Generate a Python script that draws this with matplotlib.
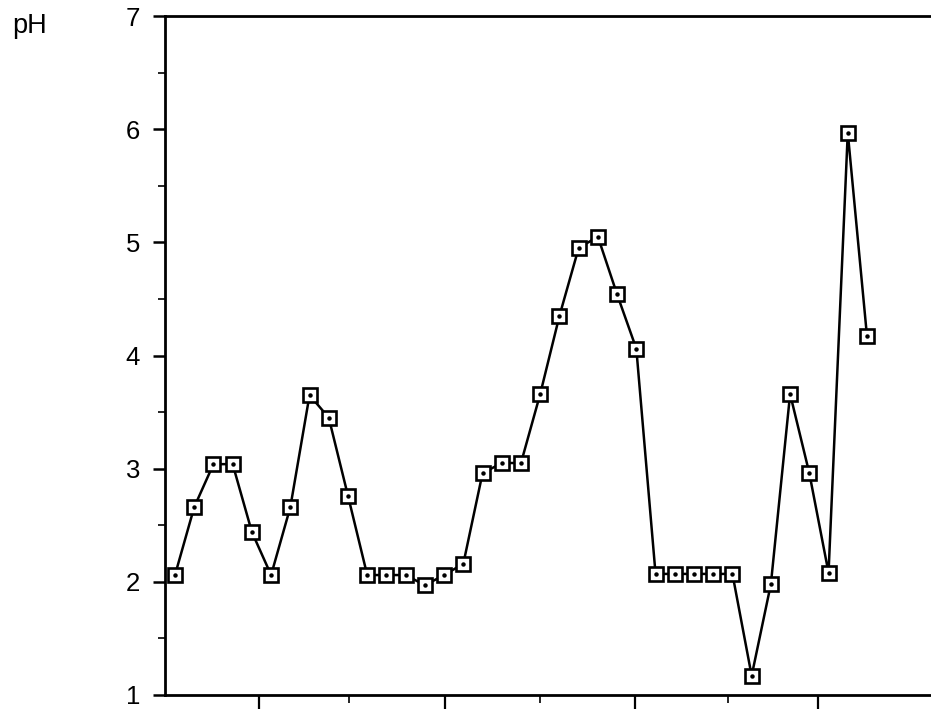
import matplotlib
matplotlib.use("Agg")
import matplotlib.pyplot as plt
import numpy as np

plt.rcParams['font.family'] = ['Liberation Sans', 'DejaVu Sans']

# data: pH readings at successive sample positions
sample = list(range(37))
ph = [2.06, 2.66, 3.04, 3.04, 2.44, 2.06, 2.66, 3.65, 3.45, 2.76,
      2.06, 2.06, 2.06, 1.97, 2.06, 2.16, 2.96, 3.05, 3.05, 3.66,
      4.35, 4.95, 5.05, 4.54, 4.06, 2.07, 2.07, 2.07, 2.07, 2.07,
      1.17, 1.98, 3.66, 2.96, 2.08, 5.97, 4.17]

y_ticks = [1, 2, 3, 4, 5, 6, 7]
y_minor = [1.5, 2.5, 3.5, 4.5, 5.5, 6.5]
x_major = [4.37, 14.05, 23.93, 33.45]
x_minor = [9.05, 18.99, 28.77]

W, H = 931, 711
fig = plt.figure(figsize=(W / 100, H / 100), dpi=100)
left, right, bottom, top = 165, 931, 695, 16
ax = fig.add_axes([left / W, (H - bottom) / H, (right - left) / W, (bottom - top) / H])

ax.plot(sample, ph, color='black', lw=1.8, marker='s', markersize=9.5,
        markerfacecolor='white', markeredgecolor='black', markeredgewidth=1.9,
        zorder=3)
ax.plot(sample, ph, linestyle='none', marker='o', markersize=2.2,
        color='black', zorder=4)

ax.set_ylim(1, 7)
ax.set_xlim(-0.52, 39.33)
ax.set_yticks(y_ticks)
ax.set_yticks(y_minor, minor=True)
ax.set_xticks(x_major)
ax.set_xticks(x_minor, minor=True)
ax.set_xticklabels([])

for s in ['left', 'bottom', 'top']:
    ax.spines[s].set_linewidth(2.0)
ax.spines['right'].set_visible(False)

ax.tick_params(axis='y', which='major', direction='out', length=9, width=1.8,
               labelsize=18.5, pad=9)
ax.tick_params(axis='y', which='minor', direction='out', length=5, width=1.2)
ax.tick_params(axis='x', which='major', direction='out', length=10, width=1.6)
ax.tick_params(axis='x', which='minor', direction='out', length=6, width=1.2)

fig.text(12 / W, 1 - 33 / H, 'pH', fontsize=19.5, ha='left', va='baseline')

fig.savefig('out.png', dpi=100)
